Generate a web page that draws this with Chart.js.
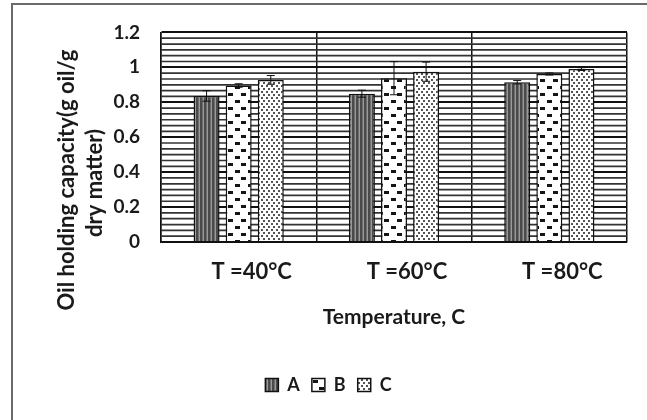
<!DOCTYPE html>
<html><head><meta charset="utf-8">
<script src="https://cdn.jsdelivr.net/npm/chart.js@4/dist/chart.umd.min.js"></script>
<style>
html,body{margin:0;padding:0;background:#fff;}
#wrap{position:relative;width:647px;height:420px;overflow:hidden;}
#frame{position:absolute;left:11px;top:3px;width:640px;height:430px;border-left:2px solid #6a6a6a;border-top:2px solid #6a6a6a;}
canvas{position:absolute;left:0;top:0;}
</style></head><body>
<div id="wrap"><div id="frame"></div><canvas id="c" width="647" height="420"></canvas></div>
<script>
// ---- data ----
const categories = ['T =40°C', 'T =60°C', 'T =80°C'];
const seriesNames = ['A', 'B', 'C'];
const valuesA = [0.836, 0.849, 0.915];
const valuesB = [0.896, 0.938, 0.962];
const valuesC = [0.928, 0.975, 0.990];
const errorsA = [0.030, 0.020, 0.010];
const errorsB = [0.010, 0.095, 0.006];
const errorsC = [0.025, 0.055, 0.008];
const yTicks = [0, 0.2, 0.4, 0.6, 0.8, 1, 1.2];
const yTickLabels = ['0', '0.2', '0.4', '0.6', '0.8', '1', '1.2'];
const yTitleLines = ['Oil holding capacity(g oil/g', 'dry matter)'];
const xTitle = 'Temperature, C';

// ---- patterns ----
function makePattern(w, h, draw) {
  const c = document.createElement('canvas');
  c.width = w; c.height = h;
  const g = c.getContext('2d');
  draw(g);
  return g.createPattern(c, 'repeat');
}
const ctx = document.getElementById('c').getContext('2d');
const patA = makePattern(4, 4, g => {
  g.fillStyle = '#9a9a9a'; g.fillRect(0, 0, 4, 4);
  g.fillStyle = '#4a4a4a'; g.fillRect(0, 0, 2, 4);
  g.fillStyle = '#6e6e6e'; g.fillRect(2, 0, 1, 4);
});
const patB = makePattern(13, 14, g => {
  g.fillStyle = '#fff'; g.fillRect(0, 0, 13, 14);
  g.fillStyle = '#151515';
  g.fillRect(1, 2, 5, 3);
  g.fillRect(7, 9, 5, 3);
});
const patC = makePattern(5, 6, g => {
  g.fillStyle = '#fff'; g.fillRect(0, 0, 5, 6);
  g.fillStyle = '#555';
  g.fillRect(1, 1, 2, 2);
  g.fillRect(3, 4, 2, 2);
});

const errorSets = [errorsA, errorsB, errorsC];

const hatchPlugin = {
  id: 'hatch',
  beforeDatasetsDraw(chart) {
    const {ctx, chartArea: a, scales: {y}} = chart;
    ctx.save();
    ctx.beginPath(); ctx.rect(a.left, a.top, a.right - a.left, a.bottom - a.top); ctx.clip();
    ctx.strokeStyle = '#333'; ctx.lineWidth = 1.7;
    const n = 36;
    for (let k = 0; k <= n; k++) {
      if (k % 6 === 0) continue;
      const py = y.getPixelForValue(y.max * k / n);
      ctx.beginPath(); ctx.moveTo(a.left, py); ctx.lineTo(a.right, py); ctx.stroke();
    }
    ctx.restore();
  }
};

const errorPlugin = {
  id: 'errbars',
  afterDatasetsDraw(chart) {
    const {ctx, scales: {y}} = chart;
    ctx.save();
    ctx.strokeStyle = '#111'; ctx.lineWidth = 1;
    chart.data.datasets.forEach((ds, i) => {
      const meta = chart.getDatasetMeta(i);
      meta.data.forEach((bar, j) => {
        const v = ds.data[j], e = errorSets[i][j];
        const t = y.getPixelForValue(v + e), b = y.getPixelForValue(v - e);
        ctx.beginPath();
        ctx.moveTo(bar.x, t); ctx.lineTo(bar.x, b);
        ctx.moveTo(bar.x - 4, t); ctx.lineTo(bar.x + 4, t);
        ctx.moveTo(bar.x - 4, b); ctx.lineTo(bar.x + 4, b);
        ctx.stroke();
      });
    });
    ctx.restore();
  }
};

const yTitlePlugin = {
  id: 'ytitle',
  afterDraw(chart) {
    const {ctx} = chart;
    ctx.save();
    ctx.fillStyle = '#1a1a1a';
    ctx.font = 'bold 22px Lato';
    ctx.textAlign = 'center'; ctx.textBaseline = 'middle';
    const pos = [[67, 180], [95, 183]];
    yTitleLines.forEach((line, i) => {
      ctx.save();
      ctx.translate(pos[i][0], pos[i][1]);
      ctx.rotate(-Math.PI / 2);
      ctx.fillText(line, 0, 0);
      ctx.restore();
    });
    ctx.restore();
  }
};

new Chart(ctx, {
  type: 'bar',
  data: {
    labels: categories,
    datasets: [
      {label: seriesNames[0], data: valuesA, backgroundColor: patA, borderColor: '#111', borderWidth: 1.5},
      {label: seriesNames[1], data: valuesB, backgroundColor: patB, borderColor: '#111', borderWidth: 1.5},
      {label: seriesNames[2], data: valuesC, backgroundColor: patC, borderColor: '#111', borderWidth: 1.5}
    ]
  },
  options: {
    responsive: false,
    devicePixelRatio: 1,
    animation: false,
    layout: {padding: {left: 30, right: 20, top: 24, bottom: 16}},
    datasets: {bar: {categoryPercentage: 0.62, barPercentage: 0.81}},
    plugins: {
      legend: {
        position: 'bottom',
        labels: {
          color: '#1a1a1a',
          font: {family: 'Lato', size: 18, weight: 'bold'},
          boxWidth: 13, boxHeight: 13, padding: 12
        }
      },
      tooltip: {enabled: false}
    },
    scales: {
      x: {
        afterFit(s) { s.height = 122; },
        grid: {color: '#111', lineWidth: 1.5, drawTicks: false, offset: true},
        border: {color: '#111', width: 1.5},
        ticks: {color: '#1a1a1a', font: {family: 'Lato', size: 22, weight: 'bold'}, padding: 17, labelOffset: 13},
        title: {display: true, text: xTitle, color: '#1a1a1a', font: {family: 'Lato', size: 21, weight: 'bold'}, padding: {top: 0, bottom: 34}}
      },
      y: {
        min: 0, max: 1.2,
        afterFit(s) { s.width = 131; },
        afterBuildTicks(s) { s.ticks = yTicks.map(v => ({value: v})); },
        grid: {color: '#111', lineWidth: 2, drawTicks: false},
        border: {color: '#111', width: 1.5},
        ticks: {
          color: '#1a1a1a', font: {family: 'Lato', size: 19, weight: 'bold'}, padding: 21,
          callback: (v, i) => yTickLabels[i]
        }
      }
    }
  },
  plugins: [hatchPlugin, errorPlugin, yTitlePlugin]
});
</script>
</body></html>
